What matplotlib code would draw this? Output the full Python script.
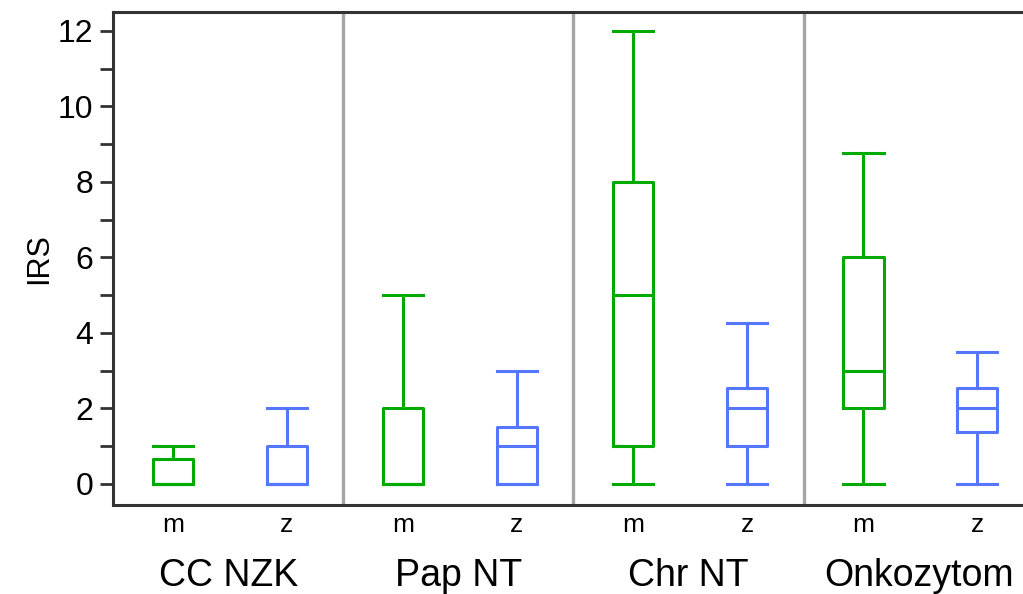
import matplotlib
matplotlib.use("Agg")
import matplotlib.pyplot as plt

plt.rcParams["font.family"] = ["Liberation Sans", "DejaVu Sans"]

GROUPS = ["CC NZK", "Pap NT", "Chr NT", "Onkozytom"]
SEXES = ["m", "z"]

# five-number summaries per group, m then z
WHISLO = [[0, 0], [0, 0], [0, 0], [0, 0]]
Q1     = [[0, 0], [0, 0], [1, 1], [2, 1.38]]
MED    = [[0, 0], [0, 1], [5, 2], [3, 2]]
Q3     = [[0.65, 1], [2, 1.5], [8, 2.55], [6, 2.55]]
WHISHI = [[1, 2], [5, 3], [12, 4.25], [8.75, 3.5]]

COLORS = {"m": "#00AA00", "z": "#5577FF"}
OFFSETS = {"m": 0.26, "z": 0.755}

fig = plt.figure(figsize=(10.23, 5.94), dpi=100)
ax = fig.add_axes([0.1105, 0.15, 0.9, 0.83])

for gi in range(len(GROUPS)):
    for si, s in enumerate(SEXES):
        stats = [{
            "whislo": WHISLO[gi][si], "q1": Q1[gi][si], "med": MED[gi][si],
            "q3": Q3[gi][si], "whishi": WHISHI[gi][si], "fliers": [],
        }]
        c = COLORS[s]
        lp = dict(color=c, linewidth=2.2)
        ax.bxp(stats, positions=[gi + OFFSETS[s]], widths=0.175,
               showfliers=False, boxprops=lp, whiskerprops=lp, capprops=lp,
               medianprops=lp, capwidths=0.175, manage_ticks=False)

for gi in range(1, len(GROUPS)):
    ax.axvline(gi, color="#a9a4a4", linewidth=2.4, zorder=0)

ax.set_xlim(0, len(GROUPS))
ax.set_ylim(-0.556, 12.5)

ax.set_yticks(range(0, 13, 2))
ax.set_yticks(range(1, 12, 2), minor=True)
ax.tick_params(axis="y", which="both", length=9.5, width=2, color="#333333",
               labelsize=23, pad=4.5)

xt = [gi + OFFSETS[s] for gi in range(len(GROUPS)) for s in SEXES]
ax.set_xticks(xt)
ax.set_xticklabels(SEXES * len(GROUPS), fontsize=19)
ax.tick_params(axis="x", length=0, pad=6)

for gi, g in enumerate(GROUPS):
    ax.text(gi + 0.5, -0.145, g, transform=ax.get_xaxis_transform(),
            ha="center", va="center", fontsize=27)

for sp in ax.spines.values():
    sp.set_linewidth(2.2)
    sp.set_color("#333333")

ax.set_ylabel("IRS", fontsize=22, labelpad=3)

fig.savefig("out.png", dpi=100)
